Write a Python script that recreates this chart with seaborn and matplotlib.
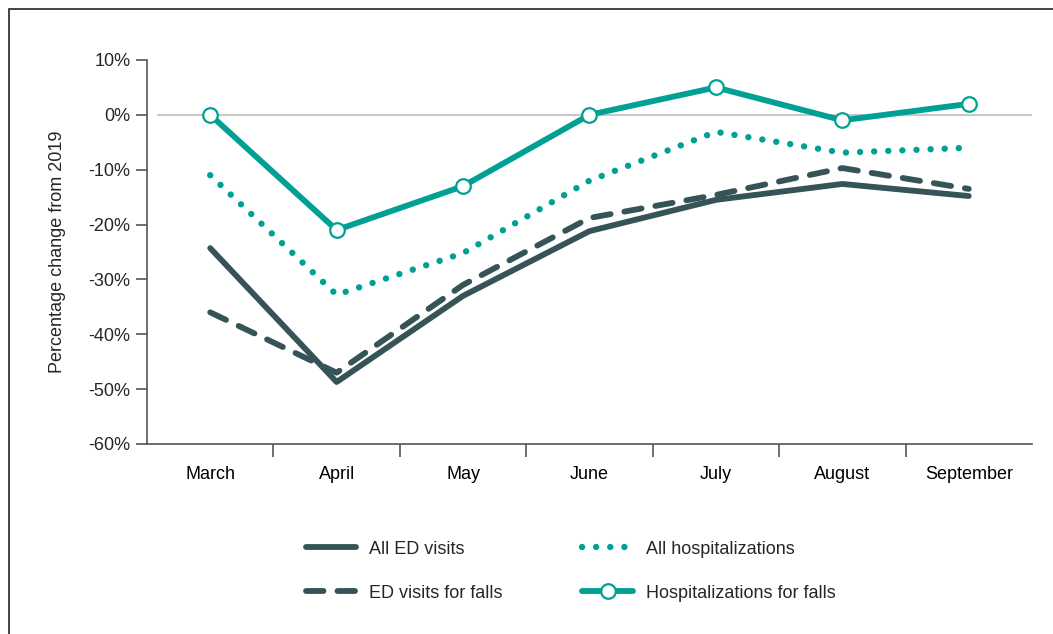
import pandas as pd
import matplotlib.pyplot as plt
import seaborn as sns
from matplotlib.patches import Rectangle
from matplotlib.ticker import FixedLocator

# Data
months = ['March', 'April', 'May', 'June', 'July', 'August', 'September']
all_ed_visits = [-24.3, -48.7, -33.0, -21.2, -15.5, -12.6, -14.8]
ed_visits_falls = [-36.0, -47.0, -31.0, -18.8, -14.6, -9.7, -13.5]
all_hosp = [-11.0, -32.8, -25.2, -12.0, -3.1, -6.9, -6.0]
hosp_falls = [0.0, -21.0, -13.0, 0.0, 5.0, -1.0, 2.0]
y_ticks = [10, 0, -10, -20, -30, -40, -50, -60]

teal = '#00A094'
dark = '#365457'

df = pd.DataFrame({
    'Month': months,
    'All ED visits': all_ed_visits,
    'ED visits for falls': ed_visits_falls,
    'All hospitalizations': all_hosp,
    'Hospitalizations for falls': hosp_falls,
})
df['x'] = range(len(months))

sns.set_style('white')
plt.rcParams['font.family'] = ['Liberation Sans', 'DejaVu Sans']

fig = plt.figure(figsize=(10.53, 6.34), dpi=100)
ax = fig.add_axes([0.1396, 0.2997, 0.8404, 0.6057])

ax.axhline(0, xmin=0.012, xmax=1, color='#c8c8c8', lw=1.5, zorder=1)

sns.lineplot(data=df, x='x', y='All ED visits', ax=ax, color=dark, lw=4.2,
             label='All ED visits')
ax.lines[-1].set_solid_capstyle('round')
sns.lineplot(data=df, x='x', y='ED visits for falls', ax=ax, color=dark, lw=4.2,
             label='ED visits for falls')
ax.lines[-1].set_linestyle((0, (3.0, 2.4)))
ax.lines[-1].set_dash_capstyle('round')
sns.lineplot(data=df, x='x', y='All hospitalizations', ax=ax, color=teal, lw=4.6,
             label='All hospitalizations')
ax.lines[-1].set_linestyle((0, (0.01, 2.2)))
ax.lines[-1].set_dash_capstyle('round')
sns.lineplot(data=df, x='x', y='Hospitalizations for falls', ax=ax, color=teal, lw=4.2,
             marker='o', markersize=10.5, markerfacecolor='white',
             markeredgecolor=teal, markeredgewidth=1.6,
             label='Hospitalizations for falls')

ax.set_xlim(-0.5, len(months) - 0.5)
ax.set_ylim(-60, 10)
ax.set_xticks(range(len(months)))
ax.set_xticklabels(months)
ax.xaxis.set_minor_locator(FixedLocator([i + 0.5 for i in range(len(months) - 1)]))
ax.tick_params(axis='x', which='major', length=0, pad=16, labelsize=13, colors='black')
ax.tick_params(axis='x', which='minor', length=9, width=1.2, color='#555555', bottom=True)
ax.set_yticks(y_ticks)
ax.set_yticklabels([f'{v}%' for v in y_ticks])
ax.tick_params(axis='y', length=8, width=1.2, color='#555555', labelsize=13, pad=4, left=True)

for s in ['top', 'right']:
    ax.spines[s].set_visible(False)
for s in ['left', 'bottom']:
    ax.spines[s].set_color('#555555')
    ax.spines[s].set_linewidth(1.2)

ax.set_xlabel('')
ax.set_ylabel('Percentage change from 2019', fontsize=13, labelpad=16)

ax.legend(ncol=2, frameon=False, fontsize=13, loc='center',
          bbox_to_anchor=(0.542, 0.099), bbox_transform=fig.transFigure,
          handlelength=2.8, handletextpad=0.72, columnspacing=4.4, labelspacing=1.5)

fig.patches.append(Rectangle((9 / 1053, -0.1), 1.2, 1 - 9 / 634 + 0.1,
                             transform=fig.transFigure, fill=False,
                             edgecolor='#222222', lw=1.2))

plt.savefig('out.png', dpi=100)
